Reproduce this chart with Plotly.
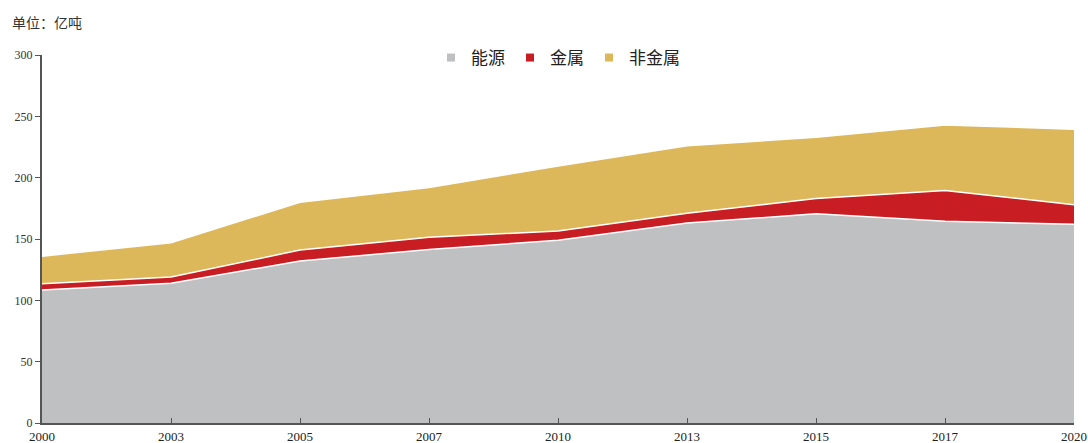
import plotly.graph_objects as go

years = ["2000", "2003", "2005", "2007", "2010", "2013", "2015", "2017", "2020"]
energy = [108.5, 114, 132, 141.5, 149, 163, 170.5, 164.5, 162]
metal = [5, 5, 9, 10, 7.5, 8, 12.5, 25, 16]
nonmetal = [22.5, 28, 39, 40.5, 53, 55, 50, 53.5, 61.5]
y_ticks = [0, 50, 100, 150, 200, 250, 300]

series = [("能源", energy, "#bfc0c2"), ("金属", metal, "#c81d23"), ("非金属", nonmetal, "#ddb85a")]

fig = go.Figure()
for name, vals, col in series:
    fig.add_trace(go.Scatter(
        x=years, y=vals, name=name, mode="lines", stackgroup="one",
        line=dict(color="white", width=1.5), fillcolor=col, showlegend=False,
    ))
for name, vals, col in series:
    fig.add_trace(go.Scatter(
        x=[years[0]], y=[None], name=name, mode="markers",
        marker=dict(symbol="square", size=8, color=col), showlegend=True,
    ))

fig.update_layout(
    width=1088, height=443,
    margin=dict(l=42, r=14, t=55, b=20, autoexpand=False),
    paper_bgcolor="white", plot_bgcolor="white",
    showlegend=True,
    legend=dict(orientation="h", x=0.5, xanchor="center", y=1 - 3/368, yanchor="middle",
                font=dict(family="Noto Sans CJK SC", size=17, color="#222222"),
                traceorder="normal", bgcolor="rgba(0,0,0,0)", itemwidth=30),
    font=dict(family="Liberation Serif", size=12, color="#333333"),
)
fig.add_annotation(text="单位：亿吨", xref="paper", yref="paper", x=-32/1032, y=1 + 33/368,
                   xanchor="left", yanchor="middle", showarrow=False,
                   font=dict(family="Noto Sans CJK SC", size=14, color="#333333"))

fig.update_xaxes(type="category", range=[0, 8], showline=True, linecolor="#555555", linewidth=2,
                 ticks="inside", ticklen=5, tickcolor="#555555", showgrid=False, automargin=False,
                 tickfont=dict(family="Liberation Serif", size=13, color="#222222"))
fig.update_yaxes(range=[0, 300], tickvals=y_ticks, showline=True, linecolor="#555555", linewidth=2,
                 ticks="outside", ticklen=5, tickcolor="#555555", showgrid=False, zeroline=False,
                 automargin=False,
                 tickfont=dict(family="Liberation Serif", size=12, color="#333333"))

fig.write_html("out.html", config={"displayModeBar": False},
               post_script="document.body.style.margin='0px';document.body.style.overflow='hidden';")
